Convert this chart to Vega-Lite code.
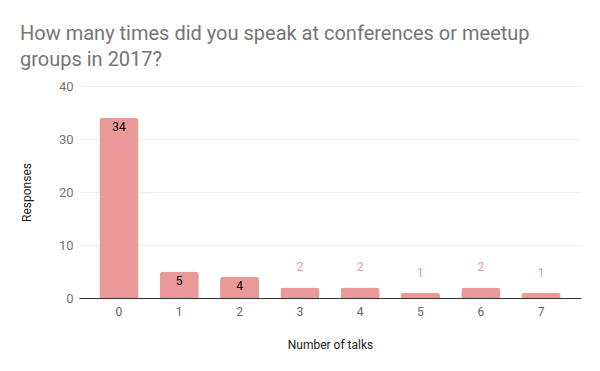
{
  "$schema": "https://vega.github.io/schema/vega-lite/v6.json",
  "width": 502,
  "height": 212,
  "autosize": {"type": "none"},
  "padding": {"left": 79, "top": 86, "right": 19, "bottom": 73},
  "background": "white",
  "title": {
    "text": ["How many times did you speak at conferences or meetup", "groups in 2017?"],
    "anchor": "start",
    "frame": "group",
    "dx": -59,
    "offset": 10,
    "font": "Roboto",
    "fontSize": 20,
    "fontWeight": "normal",
    "color": "#757575",
    "lineHeight": 26
  },
  "config": {
    "view": {"stroke": null},
    "font": "Roboto",
    "axis": {"labelFont": "Roboto", "titleFont": "Roboto"}
  },
  "data": {
    "values": [
      {"talks": "0", "responses": 34},
      {"talks": "1", "responses": 5},
      {"talks": "2", "responses": 4},
      {"talks": "3", "responses": 2},
      {"talks": "4", "responses": 2},
      {"talks": "5", "responses": 1},
      {"talks": "6", "responses": 2},
      {"talks": "7", "responses": 1}
    ]
  },
  "encoding": {
    "x": {
      "field": "talks",
      "type": "ordinal",
      "sort": null,
      "scale": {"paddingInner": 0.353, "paddingOuter": 0.339},
      "axis": {
        "title": "Number of talks",
        "labelAngle": 0,
        "labelFontSize": 12,
        "labelColor": "#666666",
        "labelPadding": 8,
        "ticks": false,
        "domainColor": "#333333",
        "domainWidth": 1,
        "titleFontSize": 12,
        "titleFontWeight": "normal",
        "titleColor": "#222222",
        "titlePadding": 22
      }
    },
    "y": {
      "field": "responses",
      "type": "quantitative",
      "scale": {"domain": [0, 40]},
      "axis": {
        "title": "Responses",
        "values": [0, 10, 20, 30, 40],
        "labelFontSize": 13,
        "labelColor": "#757575",
        "labelPadding": 6,
        "ticks": false,
        "domain": false,
        "gridColor": "#eeeeee",
        "titleFontSize": 12,
        "titleFontWeight": "normal",
        "titleColor": "#222222",
        "titleX": -46,
        "titleY": 106
      }
    }
  },
  "layer": [
    {
      "mark": {"type": "bar", "color": "#ea9999", "cornerRadiusTopLeft": 3, "cornerRadiusTopRight": 3}
    },
    {
      "transform": [{"filter": "datum.responses >= 4"}],
      "mark": {"type": "text", "baseline": "top", "dy": 4, "fontSize": 12, "color": "#000000"},
      "encoding": {"text": {"field": "responses", "type": "quantitative"}}
    },
    {
      "transform": [{"filter": "datum.responses < 4"}],
      "mark": {"type": "text", "baseline": "bottom", "dy": -13, "fontSize": 12, "color": "#ea9999"},
      "encoding": {"text": {"field": "responses", "type": "quantitative"}}
    }
  ]
}
